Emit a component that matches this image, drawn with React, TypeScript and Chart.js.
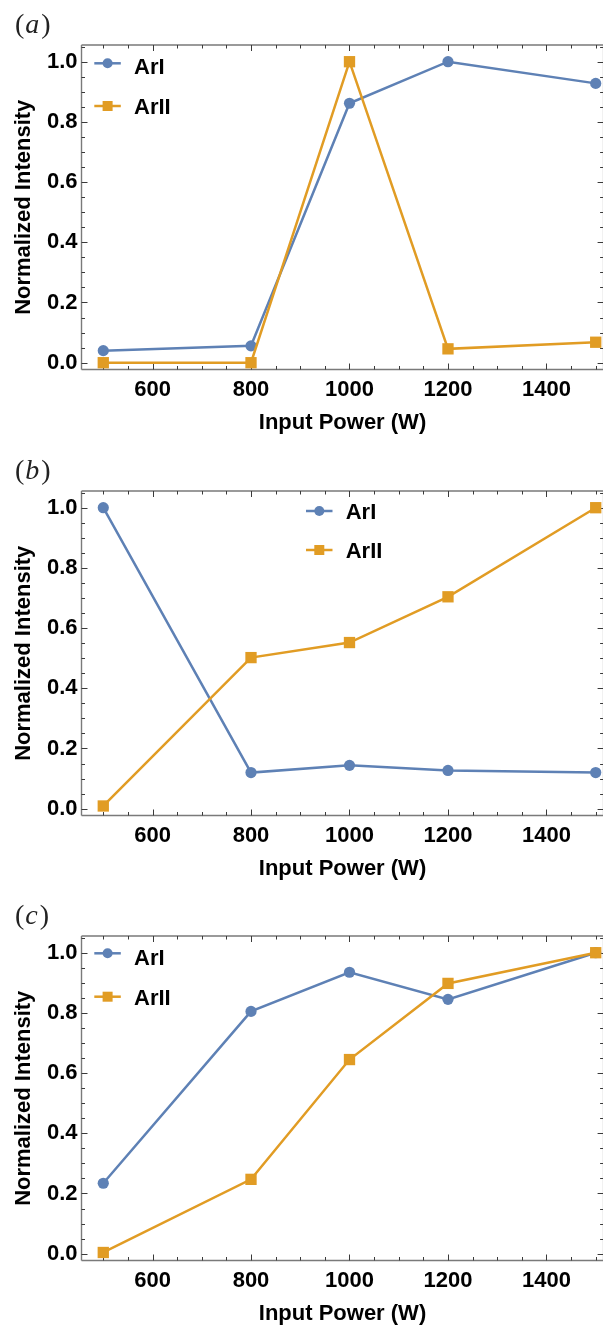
import React, { useEffect, useRef } from 'react';
import { Chart, registerables } from 'chart.js';
Chart.register(...registerables);

// ---- data ----
const powers = [500, 800, 1000, 1200, 1500];
const seriesNames = ['ArI', 'ArII'];
const arI_a = [0.04, 0.056, 0.862, 1.0, 0.928];
const arII_a = [0.0, 0.0, 1.0, 0.046, 0.068];
const arI_b = [1.0, 0.12, 0.144, 0.127, 0.12];
const arII_b = [0.009, 0.502, 0.552, 0.704, 1.0];
const arI_c = [0.234, 0.805, 0.935, 0.845, 1.0];
const arII_c = [0.004, 0.247, 0.645, 0.898, 1.0];
const panelLetters = ['a', 'b', 'c'];
const xTickValues = [600, 800, 1000, 1200, 1400];
const yTickValues = [0, 0.2, 0.4, 0.6, 0.8, 1.0];
const xTitle = 'Input Power (W)';
const yTitle = 'Normalized Intensity';

const BLUE = '#5E81B5';
const ORANGE = '#E19C24';
const FONT = '"Liberation Sans", Arial, sans-serif';

const panelSeries = [
  [arI_a, arII_a],
  [arI_b, arII_b],
  [arI_c, arII_c],
];

const legendLayout = [
  { x: 94.3, marker: [63.3, 106], text: [68.3, 107.5] },
  { x: 306, marker: [65, 104], text: [66.8, 106] },
  { x: 94.3, marker: [62.3, 105.7], text: [68.0, 107.8] },
];

const canvasTops = [0, 446, 891];
const CANVAS_W = 603;
const CANVAS_H = 446;

const framePlugin = {
  id: 'mmaFrame',
  beforeDatasetsDraw(chart: any) {
    const { ctx, chartArea: a, scales } = chart;
    const xs = scales.x;
    const ys = scales.y;
    ctx.save();
    // frame
    ctx.strokeStyle = '#7a7a7a';
    ctx.lineWidth = 1.4;
    ctx.beginPath();
    ctx.moveTo(a.left - 0.5, a.top);
    ctx.lineTo(a.left - 0.5, a.bottom);
    ctx.moveTo(a.left - 0.5, a.bottom);
    ctx.lineTo(a.right + 1, a.bottom);
    ctx.moveTo(a.left - 0.5, a.top);
    ctx.lineTo(a.right + 1, a.top);
    ctx.moveTo(a.right + 0.6, a.top);
    ctx.lineTo(a.right + 0.6, a.bottom);
    ctx.stroke();
    // ticks
    ctx.strokeStyle = '#3a3a3a';
    ctx.lineWidth = 1;
    ctx.beginPath();
    for (let v = 450; v <= 1550; v += 50) {
      if (v < xs.min || v > xs.max) continue;
      const px = Math.round(xs.getPixelForValue(v)) + 0.5;
      const major = xTickValues.includes(v);
      const len = major ? 6 : 3.5;
      ctx.moveTo(px, a.bottom);
      ctx.lineTo(px, a.bottom - len);
      ctx.moveTo(px, a.top);
      ctx.lineTo(px, a.top + len);
    }
    for (let k = 0; k <= 21; k++) {
      const v = k * 0.05;
      if (v < ys.min || v > ys.max) continue;
      const py = Math.round(ys.getPixelForValue(v)) + 0.5;
      const major = k % 4 === 0;
      const len = major ? 6 : 3.5;
      ctx.moveTo(a.left - 0.5, py);
      ctx.lineTo(a.left - 0.5 + len, py);
      ctx.moveTo(a.right + 0.6, py);
      ctx.lineTo(a.right + 0.6 - len, py);
    }
    ctx.stroke();
    ctx.restore();
  },
  afterDraw(chart: any) {
    const { ctx } = chart;
    const idx = chart.options.plugins.mmaFrame.panel;
    const lay = legendLayout[idx];
    ctx.save();
    // panel label "(a)"
    ctx.fillStyle = '#222';
    ctx.textBaseline = 'alphabetic';
    ctx.textAlign = 'left';
    ctx.font = '28px "Liberation Serif", "DejaVu Serif", serif';
    let x = 15;
    const base = 33;
    ctx.fillText('(', x, base);
    x += ctx.measureText('(').width + 1;
    ctx.font = 'italic 28px "Liberation Serif", "DejaVu Serif", serif';
    const letter = panelLetters[idx];
    ctx.fillText(letter, x, base);
    x += ctx.measureText(letter).width + 2;
    ctx.font = '28px "Liberation Serif", "DejaVu Serif", serif';
    ctx.fillText(')', x, base);

    // legend
    chart.data.datasets.forEach((ds: any, i: number) => {
      const my = lay.marker[i];
      ctx.strokeStyle = ds.borderColor;
      ctx.lineWidth = 2.5;
      ctx.beginPath();
      ctx.moveTo(lay.x, my);
      ctx.lineTo(lay.x + 26.5, my);
      ctx.stroke();
      ctx.fillStyle = ds.borderColor;
      const cx = lay.x + 13.3;
      if (i === 0) {
        ctx.beginPath();
        ctx.arc(cx, my, 5, 0, Math.PI * 2);
        ctx.fill();
      } else {
        ctx.fillRect(cx - 5, my - 5, 10, 10);
      }
      ctx.fillStyle = '#000';
      ctx.font = 'bold 22px ' + FONT;
      ctx.textBaseline = 'middle';
      ctx.textAlign = 'left';
      ctx.fillText(ds.label, lay.x + 39.7, lay.text[i]);
    });
    ctx.restore();
  },
};

function Panel({ index }: { index: number }) {
  const ref = useRef<HTMLCanvasElement | null>(null);
  useEffect(() => {
    if (!ref.current) return;
    const [s1, s2] = panelSeries[index];
    const chart = new Chart(ref.current, {
      type: 'line',
      data: {
        datasets: [
          {
            label: seriesNames[0],
            data: powers.map((p, k) => ({ x: p, y: s1[k] })),
            borderColor: BLUE,
            backgroundColor: BLUE,
            borderWidth: 2.5,
            pointStyle: 'circle',
            pointRadius: 5.6,
            pointBorderWidth: 0,
            tension: 0,
            order: 1,
            clip: false,
          },
          {
            label: seriesNames[1],
            data: powers.map((p, k) => ({ x: p, y: s2[k] })),
            borderColor: ORANGE,
            backgroundColor: ORANGE,
            borderWidth: 2.5,
            pointStyle: 'rect',
            pointRadius: 8,
            pointBorderWidth: 0,
            tension: 0,
            order: 0,
            clip: false,
          },
        ],
      },
      options: {
        responsive: false,
        animation: false,
        devicePixelRatio: 1,
        layout: { autoPadding: false, padding: { top: 45, left: 0, right: 0, bottom: 0 } },
        plugins: {
          legend: { display: false },
          tooltip: { enabled: false },
          // @ts-ignore
          mmaFrame: { panel: index },
        },
        scales: {
          x: {
            type: 'linear',
            min: 456.8,
            max: 1514.8,
            afterBuildTicks: (s: any) => {
              s.ticks = xTickValues.map((v) => ({ value: v }));
            },
            afterFit: (s: any) => {
              s.height = 76.5;
            },
            grid: { display: false, drawTicks: false },
            border: { display: false },
            ticks: {
              color: '#000',
              font: { family: FONT, size: 22, weight: 'bold' },
              padding: 7,
              autoSkip: false,
              maxRotation: 0,
              callback: (v: any) => String(v),
            },
            title: {
              display: true,
              text: xTitle,
              color: '#000',
              font: { family: FONT, size: 22, weight: 'bold' },
              padding: { top: 0, bottom: 10 },
            },
          },
          y: {
            type: 'linear',
            min: -0.0226,
            max: 1.0555,
            afterBuildTicks: (s: any) => {
              s.ticks = yTickValues.map((v) => ({ value: v }));
            },
            afterFit: (s: any) => {
              s.width = 82;
            },
            grid: { display: false, drawTicks: false },
            border: { display: false },
            ticks: {
              color: '#000',
              font: { family: FONT, size: 22, weight: 'bold' },
              padding: 4.5,
              callback: (v: any) => Number(v).toFixed(1),
            },
            title: {
              display: true,
              text: yTitle,
              color: '#000',
              font: { family: FONT, size: 22, weight: 'bold' },
              padding: { top: 11, bottom: 0 },
            },
          },
        },
      },
      plugins: [framePlugin],
    } as any);
    return () => chart.destroy();
  }, [index]);
  return (
    <div style={{ position: 'absolute', left: 0, top: canvasTops[index], width: CANVAS_W, height: CANVAS_H }}>
      <canvas ref={ref} width={CANVAS_W} height={CANVAS_H} style={{ width: CANVAS_W, height: CANVAS_H, display: 'block' }} />
    </div>
  );
}

export default function App() {
  return (
    <div style={{ position: 'absolute', left: 0, top: 0, width: 603, height: 1326, overflow: 'hidden', background: '#fff' }}>
      <Panel index={0} />
      <Panel index={1} />
      <Panel index={2} />
    </div>
  );
}
